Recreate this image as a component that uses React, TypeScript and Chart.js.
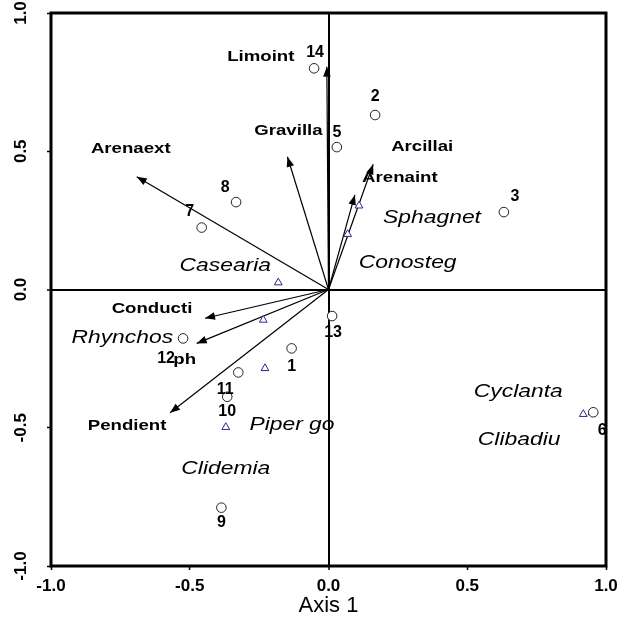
import React, { useEffect, useRef } from 'react';
import { Chart, registerables } from 'chart.js';
Chart.register(...registerables);

// Sites (circles)
const siteNames = ['1', '2', '3', '5', '6', '7', '8', '9', '10', '11', '12', '13', '14'];
const siteX = [-0.133, 0.168, 0.632, 0.03, 0.954, -0.457, -0.333, -0.386, -0.365, -0.325, -0.524, 0.013, -0.052];
const siteY = [-0.213, 0.631, 0.28, 0.515, -0.444, 0.224, 0.316, -0.789, -0.388, -0.3, -0.177, -0.096, 0.8];

// Species (triangles)
const speciesNames = ['Casearia', 'Sphagnet', 'Conosteg', 'Rhynchos', 'Piper go', 'Clidemia', 'Cyclanta', 'Clibadiu'];
const speciesX = [-0.181, 0.11, 0.069, -0.235, -0.229, -0.37, 0.918, 0.95];
const speciesY = [0.025, 0.303, 0.2, -0.11, -0.285, -0.498, -0.451, -0.445];

// Environmental variables (arrows)
const envNames = ['Limoint', 'Gravilla', 'Arenaext', 'Arcillai', 'Arenaint', 'Conducti', 'ph', 'Pendient'];
const envX = [-0.006, -0.148, -0.691, 0.161, 0.095, -0.445, -0.475, -0.571];
const envY = [0.806, 0.48, 0.408, 0.453, 0.342, -0.104, -0.195, -0.446];

// Axis ticks
const tickValues = [-1.0, -0.5, 0.0, 0.5, 1.0];
const xAxisTitle = 'Axis 1';

// Label placement offsets (pixels, layout only)
const siteLabelOffsets = [[0, 18], [0, -18], [11, -15], [0, -15], [9, 18], [-12, -16], [-11, -15], [0, 15], [0, 15], [-13, 17], [-17, 20], [1, 17], [1, -16]];
const speciesLabelOffsets = [[-53, -17], [73, 12], [60, 29], [-141, 18], [27, 57], [0, 42], [-65, -22], [-73, 27]];
const envLabelOffsets = [[-66, -10], [1, -26], [-6, -28], [49, -17], [45, -17], [-53, -9], [-12, 17], [-43, 13]];

const FONT = '"Liberation Sans", Arial, sans-serif';
const TRI_COLOR = '#2a2a88';

function stretchText(ctx: CanvasRenderingContext2D, text: string, x: number, y: number, font: string, sx: number) {
  ctx.save();
  ctx.translate(x, y);
  ctx.scale(sx, 1);
  ctx.font = font;
  ctx.textAlign = 'center';
  ctx.textBaseline = 'middle';
  ctx.fillStyle = '#000';
  ctx.fillText(text, 0, 0);
  ctx.restore();
}

const annotPlugin = {
  id: 'annot',
  afterDatasetsDraw(chart: any) {
    const ctx = chart.ctx as CanvasRenderingContext2D;
    const xs = chart.scales.x;
    const ys = chart.scales.y;
    const x0 = xs.getPixelForValue(0);
    const y0 = ys.getPixelForValue(0);
    // arrowheads
    envNames.forEach((_, i) => {
      const tx = xs.getPixelForValue(envX[i]);
      const ty = ys.getPixelForValue(envY[i]);
      const ang = Math.atan2(ty - y0, tx - x0);
      const L = 10, W = 3.8;
      ctx.save();
      ctx.translate(tx, ty);
      ctx.rotate(ang);
      ctx.beginPath();
      ctx.moveTo(0, 0);
      ctx.lineTo(-L, -W);
      ctx.lineTo(-L, W);
      ctx.closePath();
      ctx.fillStyle = '#000';
      ctx.fill();
      ctx.restore();
    });
    // labels
    envNames.forEach((n, i) => {
      const px = xs.getPixelForValue(envX[i]) + envLabelOffsets[i][0];
      const py = ys.getPixelForValue(envY[i]) + envLabelOffsets[i][1];
      stretchText(ctx, n, px, py, `bold 14px ${FONT}`, 1.33);
    });
    speciesNames.forEach((n, i) => {
      const px = xs.getPixelForValue(speciesX[i]) + speciesLabelOffsets[i][0];
      const py = ys.getPixelForValue(speciesY[i]) + speciesLabelOffsets[i][1];
      stretchText(ctx, n, px, py, `italic 18px ${FONT}`, 1.27);
    });
    siteNames.forEach((n, i) => {
      const px = xs.getPixelForValue(siteX[i]) + siteLabelOffsets[i][0];
      const py = ys.getPixelForValue(siteY[i]) + siteLabelOffsets[i][1];
      stretchText(ctx, n, px, py, `bold 16px ${FONT}`, 1.0);
    });
  },
  afterDraw(chart: any) {
    const ctx = chart.ctx as CanvasRenderingContext2D;
    const a = chart.chartArea;
    ctx.save();
    ctx.strokeStyle = '#000';
    ctx.lineWidth = 3;
    ctx.strokeRect(a.left, a.top, a.right - a.left, a.bottom - a.top);
    // y tick labels (rotated)
    const ys = chart.scales.y;
    ctx.font = `bold 17px ${FONT}`;
    ctx.fillStyle = '#000';
    ctx.textAlign = 'center';
    ctx.textBaseline = 'middle';
    tickValues.forEach((v) => {
      const py = ys.getPixelForValue(v);
      ctx.save();
      ctx.translate(21, py);
      ctx.rotate(-Math.PI / 2);
      ctx.fillText(v.toFixed(1), 0, 0);
      ctx.restore();
    });
    ctx.restore();
  },
};

export default function App() {
  const ref = useRef<HTMLCanvasElement | null>(null);
  useEffect(() => {
    if (!ref.current) return;
    const arrowSets = envNames.map((n, i) => ({
      label: n,
      data: [{ x: 0, y: 0 }, { x: envX[i], y: envY[i] }],
      showLine: true,
      borderColor: '#000',
      borderWidth: 1.2,
      pointRadius: 0,
      order: 3,
    }));
    const chart = new Chart(ref.current, {
      type: 'scatter',
      data: {
        datasets: [
          {
            label: 'sites',
            data: siteX.map((x, i) => ({ x, y: siteY[i] })),
            pointStyle: 'circle',
            pointRadius: 4.8,
            borderColor: '#222',
            backgroundColor: '#fff',
            borderWidth: 1,
            order: 1,
          } as any,
          {
            label: 'species',
            data: speciesX.map((x, i) => ({ x, y: speciesY[i] })),
            pointStyle: 'triangle',
            pointRadius: 4.5,
            borderColor: TRI_COLOR,
            backgroundColor: '#fff',
            borderWidth: 1,
            order: 2,
          } as any,
          ...arrowSets,
        ],
      },
      options: {
        animation: false,
        responsive: false,
        events: [],
        layout: { padding: { top: 13, right: 14, left: 0, bottom: 0 } },
        plugins: { legend: { display: false }, tooltip: { enabled: false } },
        scales: {
          x: {
            type: 'linear',
            min: -1,
            max: 1,
            afterFit: (s: any) => { s.height = 53; s.paddingLeft = 0; s.paddingRight = 0; },
            afterBuildTicks: (s: any) => { s.ticks = tickValues.map((v) => ({ value: v })); },
            ticks: {
              padding: 6,
              color: '#000',
              font: { family: FONT, size: 17, weight: 'bold' },
              callback: (v: any) => Number(v).toFixed(1),
              maxRotation: 0,
            },
            grid: {
              drawOnChartArea: true,
              color: (c: any) => (c.tick && c.tick.value === 0 ? '#000' : 'rgba(0,0,0,0)'),
              lineWidth: (c: any) => (c.tick && c.tick.value === 0 ? 2 : 1),
              tickColor: '#000',
              tickLength: 4,
              tickWidth: 1.5,
            },
            border: { display: false },
            title: {
              display: true,
              text: xAxisTitle,
              color: '#000',
              font: { family: FONT, size: 22, weight: 'normal' },
              padding: { top: 0, bottom: 0 },
            },
          },
          y: {
            type: 'linear',
            min: -1,
            max: 1,
            afterFit: (s: any) => { s.width = 51; s.paddingTop = 0; s.paddingBottom = 0; },
            afterBuildTicks: (s: any) => { s.ticks = tickValues.map((v) => ({ value: v })); },
            ticks: { display: false },
            grid: {
              drawOnChartArea: true,
              color: (c: any) => (c.tick && c.tick.value === 0 ? '#000' : 'rgba(0,0,0,0)'),
              lineWidth: (c: any) => (c.tick && c.tick.value === 0 ? 2 : 1),
              tickColor: '#000',
              tickLength: 4,
              tickWidth: 1.5,
            },
            border: { display: false },
          },
        },
      } as any,
      plugins: [annotPlugin],
    });
    return () => chart.destroy();
  }, []);
  return (
    <div style={{ position: 'absolute', left: 0, top: 0, width: 620, height: 619, background: '#fff' }}>
      <canvas ref={ref} width={620} height={619} style={{ display: 'block' }} />
    </div>
  );
}
